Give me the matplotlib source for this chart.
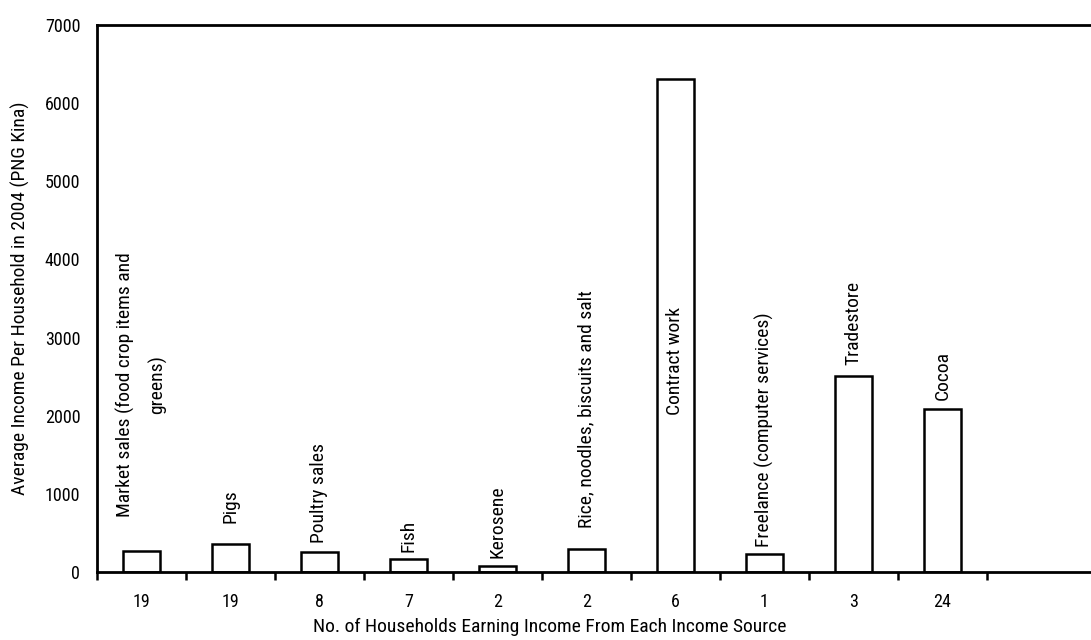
import matplotlib
matplotlib.use("Agg")
import matplotlib.pyplot as plt
from matplotlib import font_manager

# data
sources = ["Market sales (food crop items and\ngreens)", "Pigs", "Poultry sales", "Fish",
           "Kerosene", "Rice, noodles, biscuits and salt", "Contract work",
           "Freelance (computer services)", "Tradestore", "Cocoa"]
households = ["19", "19", "8", "7", "2", "2", "6", "1", "3", "24"]
income = [265, 355, 250, 160, 75, 295, 6310, 225, 2510, 2090]

# where each rotated label starts (data units), as laid out in the original
label_y = [700, 625, 370, 255, 180, 560, 2010, 320, 2650, 2200]

# the original uses a narrow Arial; take the closest narrow face on hand
names = {f.name for f in font_manager.fontManager.ttflist}
if "Roboto Condensed" in names:
    family = ["Roboto Condensed", "DejaVu Sans"]
    fs_lab, fs_tick = 14, 13
elif "PT Sans Narrow" in names:
    family = ["PT Sans Narrow", "DejaVu Sans"]
    fs_lab, fs_tick = 16, 15
else:
    family = ["Liberation Sans", "DejaVu Sans"]
    fs_lab, fs_tick = 12.5, 12
plt.rcParams["font.family"] = family

W, H = 1091, 640
fig = plt.figure(figsize=(W / 100, H / 100), dpi=100)
left, bottom, top = 97, 572, 25
ax = fig.add_axes([left / W, 1 - bottom / H, (W - left) / W, (bottom - top) / H])

x = list(range(len(income)))
ax.bar(x, income, width=0.42, color="white", edgecolor="black", linewidth=1.8)

for xi, lab, ly in zip(x, sources, label_y):
    ax.text(xi, ly, lab, rotation=90, ha="center", va="bottom",
            fontsize=fs_lab, linespacing=1.9, multialignment="center")

ax.set_xlim(-0.5, 10.67)
ax.set_ylim(0, 7000)
ax.set_yticks(range(0, 7001, 1000))
ax.tick_params(axis="y", length=0, pad=12, labelsize=fs_tick)

ax.set_xticks(x)
ax.set_xticklabels(households)
ax.set_xticks([i - 0.5 for i in range(len(income) + 1)], minor=True)
ax.tick_params(axis="x", which="major", length=0, pad=15, labelsize=fs_tick)
ax.tick_params(axis="x", which="minor", length=6, width=1.8, direction="out")

for s in ["left", "bottom", "top"]:
    ax.spines[s].set_linewidth(2)
ax.spines["right"].set_visible(False)

fig.text(20 / W, 1 - 298 / H, "Average Income Per Household in 2004 (PNG Kina)",
         rotation=90, ha="center", va="center", fontsize=fs_lab)
fig.text(550 / W, 1 - 627 / H, "No. of Households Earning Income From Each Income Source",
         ha="center", va="center", fontsize=fs_lab)

fig.savefig("out.png", dpi=100)
